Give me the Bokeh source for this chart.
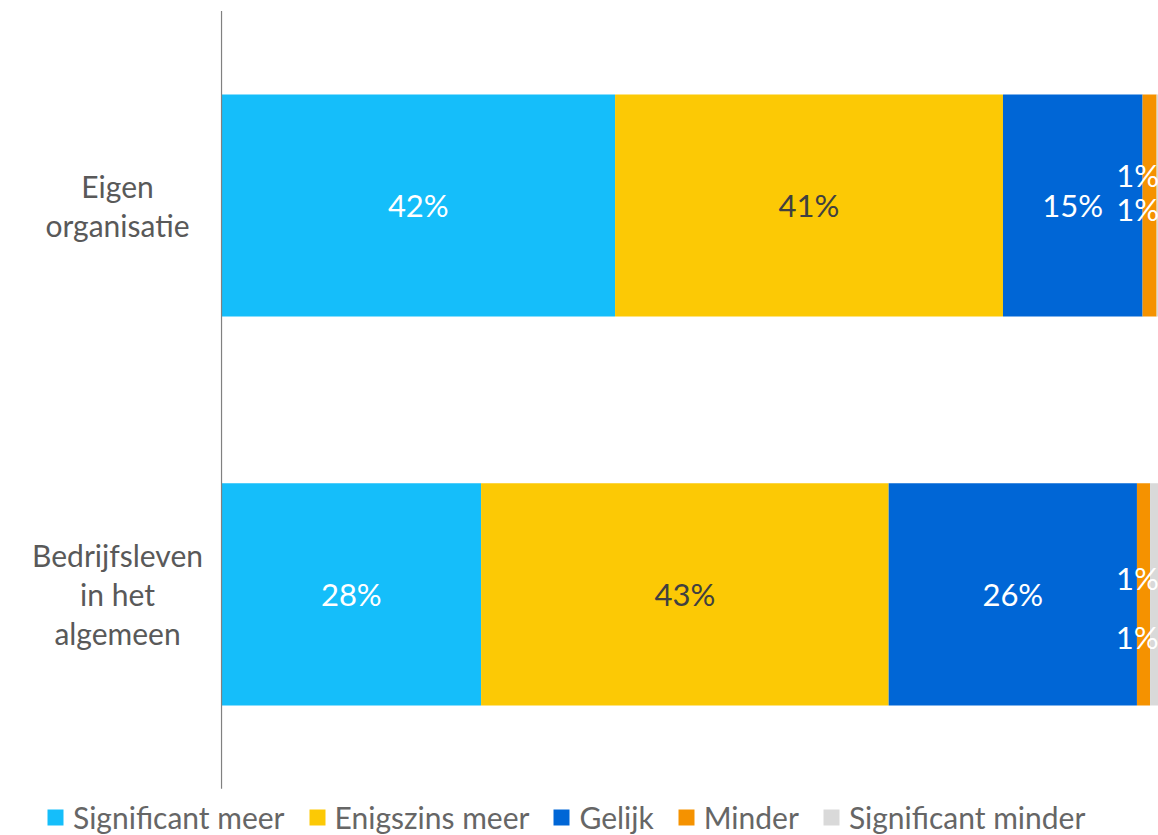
from bokeh.plotting import figure
from bokeh.models import ColumnDataSource, Range1d, Legend, LegendItem
from bokeh.core.properties import value
from bokeh.embed import file_html
from bokeh.resources import INLINE

categories = ["Eigen\norganisatie", "Bedrijfsleven\nin het\nalgemeen"]
series = ["Significant meer", "Enigszins meer", "Gelijk", "Minder", "Significant minder"]
significant_meer = [42.0, 27.7]
enigszins_meer = [41.4, 43.5]
gelijk = [14.9, 26.5]
minder = [1.5, 1.4]
significant_minder = [0.2, 0.9]
label_eigen = ["42%", "41%", "15%", "1%", "1%"]
label_bedrijf = ["28%", "43%", "26%", "1%", "1%"]

colors = ["#15BEFA", "#FCC905", "#0066D6", "#F59200", "#D9D9D9"]
text_colors = ["#FFFFFF", "#404040", "#FFFFFF", "#FFFFFF", "#FFFFFF"]
FONT = "Lato"

W, H = 1158, 835
n = len(categories)
ypos = [n - 1 - i for i in range(n)]  # first category on top

values_by_series = [significant_meer, enigszins_meer, gelijk, minder, significant_minder]
keys = ["s0", "s1", "s2", "s3", "s4"]
data = {"y": ypos}
for k, v in zip(keys, values_by_series):
    data[k] = v
source = ColumnDataSource(data)

# frame covers the whole figure; left part of x range holds the category labels,
# the lower part of the y range holds the legend
p = figure(width=W, height=H, output_backend="svg", toolbar_location=None,
           x_range=Range1d(-23.59, 100), y_range=Range1d(-0.62, n - 0.473),
           min_border_left=0, min_border_right=0, min_border_top=0, min_border_bottom=0)
p.outline_line_color = None
p.grid.visible = False
p.axis.visible = False
p.background_fill_color = "white"
p.border_fill_color = "white"

renderers = p.hbar_stack(keys, y="y", height=0.571, color=colors, line_color=None, source=source)

# vertical category axis line at x = 0 spanning the category bands
p.segment(x0=[0], y0=[-0.5], x1=[0], y1=[n - 0.5], line_color="#808080", line_width=1.2)

# category labels
p.text(x=[0] * n, y=ypos, text=categories, x_offset=-104, text_align="center",
       text_baseline="middle", text_font=value(FONT), text_font_size="30px",
       text_color="#595959", text_line_height=1.08)

# value labels
lx, ly, lt, lc, lxo, lyo = [], [], [], [], [], []
nudges = {
    0: [(0, 0), (0, 0), (0, 0), (-12, -30), (-20, 4)],
    1: [(0, 0), (0, 0), (0, 0), (-6, -16), (-17, 43)],
}
labels = [label_eigen, label_bedrijf]
for ci in range(n):
    left = 0.0
    for si, vals in enumerate(values_by_series):
        v = vals[ci]
        lx.append(left + v / 2)
        ly.append(ypos[ci])
        lt.append(labels[ci][si])
        lc.append(text_colors[si])
        lxo.append(nudges[ci][si][0])
        lyo.append(nudges[ci][si][1])
        left += v
lsrc = ColumnDataSource(dict(x=lx, y=ly, t=lt, c=lc, xo=lxo, yo=lyo))
p.text(x="x", y="y", text="t", text_color="c", x_offset="xo", y_offset="yo", source=lsrc,
       text_align="center", text_baseline="middle", text_font=value(FONT), text_font_size="31px")

legend = Legend(items=[LegendItem(label=s, renderers=[r]) for s, r in zip(series, renderers)],
                orientation="horizontal", location=(45, 0))
legend.border_line_color = None
legend.background_fill_alpha = 0
legend.label_text_font = FONT
legend.label_text_font_size = "30px"
legend.label_text_color = "#666666"
legend.glyph_width = 20
legend.glyph_height = 20
legend.spacing = 22
legend.label_standoff = 8
legend.padding = 0
legend.margin = 0
p.add_layout(legend)

open("out.html", "w").write(file_html(p, INLINE))
